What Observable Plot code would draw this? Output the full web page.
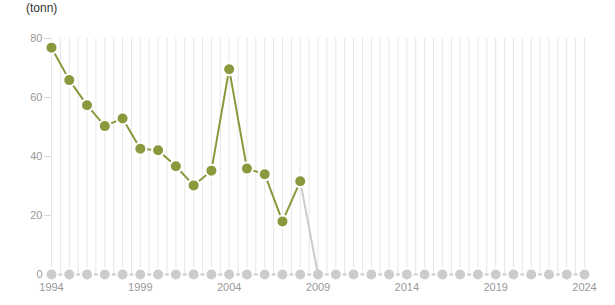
<!DOCTYPE html>
<html>
<head>
<meta charset="utf-8">
<script src="https://cdn.jsdelivr.net/npm/d3@7"></script>
<script src="https://cdn.jsdelivr.net/npm/@observablehq/plot@0.6"></script>
<style>
  html, body { margin: 0; padding: 0; background: #fff; }
  #wrap { position: relative; width: 615px; height: 305px; font-family: "Liberation Sans", Arial, sans-serif; }
  #unit { position: absolute; left: 26px; top: 1px; font-size: 12px; color: #333; }
</style>
</head>
<body>
<div id="wrap"><div id="unit">(tonn)</div></div>
<script>
const years = [1994, 1995, 1996, 1997, 1998, 1999, 2000, 2001, 2002, 2003, 2004, 2005, 2006, 2007, 2008];
const values = [76.9, 65.9, 57.4, 50.3, 52.9, 42.6, 42.1, 36.7, 30.2, 35.2, 69.6, 35.9, 34.0, 18.0, 31.6];
const allYears = d3.range(1994, 2025);
const zeroValues = allYears.map(() => 0);
const xTicks = [1994, 1999, 2004, 2009, 2014, 2019, 2024];
const yTicks = [0, 20, 40, 60, 80];
const gridYears = d3.range(1994, 2024.01, 0.5);

const green = "#8a993d";
const grey = "#cccccc";

const main = years.map((y, i) => ({year: y, value: values[i]}));
const zeros = allYears.map((y, i) => ({year: y, value: zeroValues[i]}));
const link = [main[main.length - 1], zeros.find(d => d.year === 2009)];

const chart = Plot.plot({
  width: 615,
  height: 305,
  marginTop: 38,
  marginBottom: 31,
  marginLeft: 51,
  marginRight: 31,
  style: {fontFamily: "'Liberation Sans', Arial, sans-serif", fontSize: "11px", background: "transparent"},
  x: {domain: [1994, 2024]},
  y: {domain: [0, 80]},
  marks: [
    Plot.ruleX(gridYears, {x: d => d, y1: 0, y2: 80, stroke: "#e6e6e6", strokeWidth: 1}),
    Plot.axisY({ticks: yTicks, tickSize: 7, tickPadding: 2, stroke: "#d8d8d8", fill: "#999", label: null}),
    Plot.axisX({ticks: xTicks, tickFormat: "d", tickSize: 5, tickPadding: 4, stroke: "#ccc", fill: "#999", label: null}),
    Plot.line(zeros, {x: "year", y: "value", stroke: grey, strokeWidth: 2}),
    Plot.dot(zeros, {x: "year", y: "value", r: 6, fill: grey, stroke: "#fff", strokeWidth: 2}),
    Plot.line(link, {x: "year", y: "value", stroke: grey, strokeWidth: 2}),
    Plot.line(main, {x: "year", y: "value", stroke: green, strokeWidth: 2}),
    Plot.dot(main, {x: "year", y: "value", r: 6, fill: green, stroke: "#fff", strokeWidth: 2})
  ]
});
document.getElementById("wrap").appendChild(chart);
</script>
</body>
</html>
